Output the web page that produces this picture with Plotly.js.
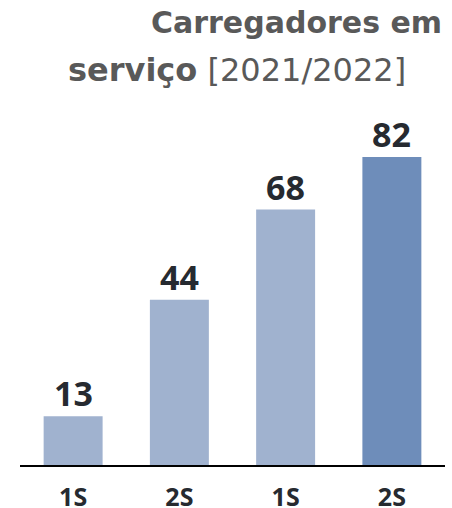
<!DOCTYPE html>
<html>
<head>
<meta charset="utf-8">
<script src="https://cdn.plot.ly/plotly-3.0.1.min.js"></script>
<style>html,body{margin:0;padding:0;background:#fff;}#chart{width:452px;height:508px;}</style>
</head>
<body>
<div id="chart"></div>
<script>
const categories = ["1S", "2S", "1S", "2S"];
const values = [13, 44, 68, 82];
const barColors = ["#A0B2CF", "#A0B2CF", "#A0B2CF", "#6E8DBA"];
const titleLine1 = "Carregadores em";
const titleLine2Bold = "serviço";
const titleLine2Rest = " [2021/2022]";

const FONT = "Open Sans, Noto Sans, sans-serif";
const TFONT = "DejaVu Sans, Open Sans, sans-serif";
const idx = categories.map((c, i) => i);

const trace = {
  type: "bar",
  x: idx,
  y: values,
  marker: { color: barColors, line: { width: 0 } },
  hoverinfo: "skip"
};

const H = 508, plotBottom = 465.5, marginTop = 100;
const plotH = plotBottom - marginTop;
const py = Y => (plotBottom - Y) / plotH;
const px = X => (X - 20) / 425;

const annotations = values.map((v, i) => ({
  x: i, y: v, xref: "x", yref: "y",
  text: "<b>" + v + "</b>",
  showarrow: false, yanchor: "bottom", yshift: -2,
  font: { family: FONT, size: 34, color: "#262A30" }
}));
annotations.push({
  xref: "paper", yref: "paper", x: px(444), y: py(22),
  xanchor: "right", yanchor: "middle",
  text: "<b>" + titleLine1 + "</b>", showarrow: false,
  font: { family: TFONT, size: 30, color: "#595959" }
});
annotations.push({
  xref: "paper", yref: "paper", x: px(66), y: py(70),
  xanchor: "left", yanchor: "middle",
  text: "<b>" + titleLine2Bold + "</b>" + titleLine2Rest, showarrow: false,
  font: { family: TFONT, size: 32, color: "#595959" }
});

const layout = {
  width: 452, height: H,
  margin: { l: 20, r: 7, t: marginTop, b: H - plotBottom },
  paper_bgcolor: "#fff", plot_bgcolor: "#fff",
  showlegend: false,
  bargap: 0.445,
  xaxis: {
    range: [-0.5, 3.5],
    tickvals: idx,
    ticktext: categories.map(c => "<b>" + c + "</b>"),
    showgrid: false, zeroline: false,
    showline: true, linecolor: "#000", linewidth: 1.5,
    ticks: "", ticklabelstandoff: 9,
    tickfont: { family: FONT, size: 25, color: "#262A30" }
  },
  yaxis: {
    range: [0, plotH / (308.5 / 82)],
    visible: false, showgrid: false, zeroline: false
  },
  annotations: annotations
};

Plotly.newPlot("chart", [trace], layout, { staticPlot: true, displayModeBar: false });
</script>
</body>
</html>
